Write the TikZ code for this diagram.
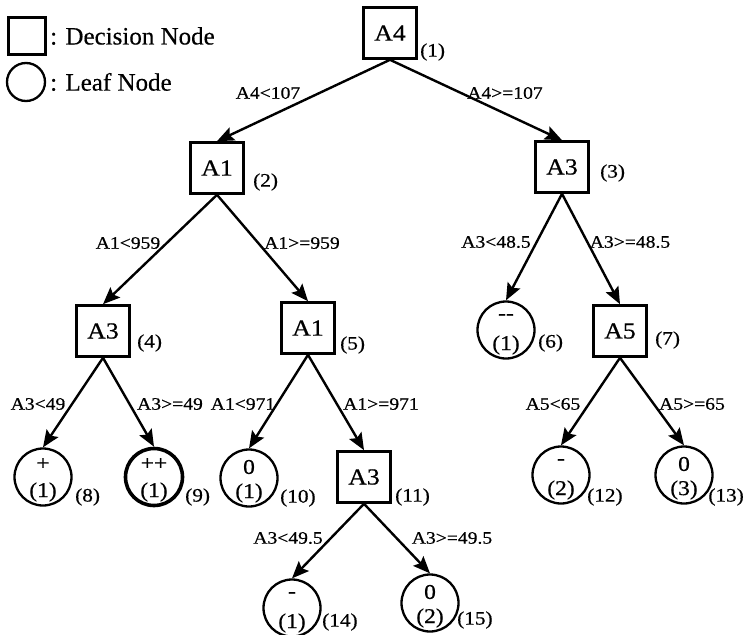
\documentclass[tikz,border=0pt]{standalone}
\usepackage{fontspec}
\setmainfont{Liberation Serif}
\newfontfamily\tf[FakeStretch=1.12,FakeBold=0.6]{Liberation Serif}
\newfontfamily\lf[FakeBold=0.4]{Liberation Serif}
\usetikzlibrary{arrows.meta}
\begin{document}
\begin{tikzpicture}[x=1pt,y=-1pt,
  dec/.style={draw, line width=2.6pt, minimum width=53pt, minimum height=51pt, inner sep=0pt, font=\tf\fontsize{23}{26}\selectfont},
  leaf/.style={draw, circle, line width=2.3pt, minimum size=57pt, inner sep=0pt},
  thickleaf/.style={leaf, line width=3.6pt},
  sym/.style={inner sep=0pt, font=\tf\fontsize{21}{24}\selectfont},
  cnt/.style={inner sep=0pt, font=\tf\fontsize{21}{24}\selectfont},
  idx/.style={anchor=west, inner sep=0pt, font=\tf\fontsize{19}{22}\selectfont},
  lbl/.style={inner sep=0pt, font=\tf\fontsize{17.5}{20}\selectfont},
  leg/.style={anchor=west, inner sep=0pt, font=\lf\fontsize{25}{28}\selectfont},
  arr/.style={line width=2.4pt, -{Stealth[length=17pt,width=14pt,inset=3pt]}}
]
\useasboundingbox (0,0) rectangle (746,634);

% legend
\node[draw, line width=2.3pt, minimum size=37pt, inner sep=0pt] (legsq) at (27,36) {};
\node[leg] (legt1) at (50,36) {: Decision Node};
\node[draw, circle, line width=2.3pt, minimum size=38pt, inner sep=0pt] (legci) at (26,82) {};
\node[leg] (legt2) at (50,82) {: Leaf Node};

% decision nodes
\node[dec] (n1) at (390,33) {A4};
\node[dec] (n2) at (217,168) {A1};
\node[dec] (n3) at (562,167) {A3};
\node[dec] (n4) at (103,331) {A3};
\node[dec] (n5) at (308,328) {A1};
\node[dec] (n7) at (620,331) {A5};
\node[dec] (n11) at (364,477) {A3};

% leaf nodes
\node[leaf] (n6) at (506,330) {};
\node[leaf] (n8) at (43,477) {};
\node[thickleaf] (n9) at (154,477) {};
\node[leaf] (n10) at (249,478) {};
\node[leaf] (n12) at (561,475) {};
\node[leaf] (n13) at (684,475) {};
\node[leaf] (n14) at (292,608) {};
\node[leaf] (n15) at (430,603) {};

% leaf contents
\node[sym] (s6) at ([yshift=13pt]n6.center) {-\kern0pt-};
\node[cnt] (c6) at ([yshift=-15pt]n6.center) {(1)};
\node[sym] (s8) at ([yshift=13pt]n8.center) {+};
\node[cnt] (c8) at ([yshift=-15pt]n8.center) {(1)};
\node[sym] (s9) at ([yshift=13pt]n9.center) {++};
\node[cnt] (c9) at ([yshift=-15pt]n9.center) {(1)};
\node[sym] (s10) at ([yshift=11pt]n10.center) {0};
\node[cnt] (c10) at ([yshift=-15pt]n10.center) {(1)};
\node[sym] (s12) at ([yshift=13pt]n12.center) {-};
\node[cnt] (c12) at ([yshift=-15pt]n12.center) {(2)};
\node[sym] (s13) at ([yshift=11pt]n13.center) {0};
\node[cnt] (c13) at ([yshift=-15pt]n13.center) {(3)};
\node[sym] (s14) at ([yshift=13pt]n14.center) {-};
\node[cnt] (c14) at ([yshift=-15pt]n14.center) {(1)};
\node[sym] (s15) at ([yshift=11pt]n15.center) {0};
\node[cnt] (c15) at ([yshift=-15pt]n15.center) {(2)};

% index labels
\node[idx] (i1) at (420,52) {(1)};
\node[idx] (i2) at (253,182) {(2)};
\node[idx] (i3) at (600,173) {(3)};
\node[idx] (i4) at (137,343) {(4)};
\node[idx] (i5) at (340,345) {(5)};
\node[idx] (i6) at (538,343) {(6)};
\node[idx] (i7) at (655,340) {(7)};
\node[idx] (i8) at (75,497) {(8)};
\node[idx] (i9) at (185,497) {(9)};
\node[idx] (i10) at (280,498) {(10)};
\node[idx] (i11) at (395,497) {(11)};
\node[idx] (i12) at (587,497) {(12)};
\node[idx, anchor=east] (i13) at (744,497) {(13)};
\node[idx] (i14) at (322,622) {(14)};
\node[idx] (i15) at (457,620) {(15)};

% edges
\draw[arr] (n1.south) -- (n2.north);
\draw[arr] (n1.south) -- (n3.north);
\draw[arr] (n2.south) -- (n4.north);
\draw[arr] (n2.south) -- (n5.north);
\draw[arr] (n3.south) -- (n6.north);
\draw[arr] (n3.south) -- (n7.north);
\draw[arr] (n4.south) -- (n8.north);
\draw[arr] (n4.south) -- (n9.north);
\draw[arr] (n5.south) -- (n10.north);
\draw[arr] (n5.south) -- (n11.north);
\draw[arr] (n7.south) -- (n12.north);
\draw[arr] (n7.south) -- (n13.north);
\draw[arr] (n11.south) -- (n14.north);
\draw[arr] (n11.south) -- (n15.north);

% edge labels
\node[lbl] (e12) at (268,93) {A4<107};
\node[lbl] (e13) at (505,93) {A4>=107};
\node[lbl] (e24) at (128,243) {A1<959};
\node[lbl] (e25) at (302,243) {A1>=959};
\node[lbl] (e36) at (496,242) {A3<48.5};
\node[lbl] (e37) at (630,242) {A3>=48.5};
\node[lbl] (e48) at (38,404) {A3<49};
\node[lbl] (e49) at (170,404) {A3>=49};
\node[lbl] (e510) at (243,404) {A1<971};
\node[lbl] (e511) at (381,404) {A1>=971};
\node[lbl] (e712) at (553,404) {A5<65};
\node[lbl] (e713) at (692,404) {A5>=65};
\node[lbl] (e1114) at (288,538) {A3<49.5};
\node[lbl] (e1115) at (452,538) {A3>=49.5};
\end{tikzpicture}
\end{document}
